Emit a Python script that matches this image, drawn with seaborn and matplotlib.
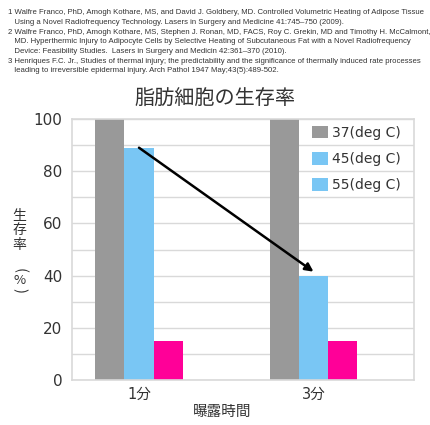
import numpy as np
import pandas as pd
import matplotlib
matplotlib.use("Agg")
import matplotlib.pyplot as plt
from matplotlib.patches import Patch
import seaborn as sns

# dati
tempi = ["1分", "3分"]
temperature = ["37(deg C)", "45(deg C)", "55(deg C)"]
valori_37 = [100, 100]
valori_45 = [89, 40]
valori_55 = [15, 15]

colori_barre = ["#999999", "#79c6f4", "#ff0098"]
colori_legenda = ["#999999", "#79c6f4", "#79c6f4"]  # nel grafico originale il 55 ha il colore del 45

note = [
    "1 Walfre Franco, PhD, Amogh Kothare, MS, and David J. Goldbery, MD. Controlled Volumetric Heating of Adipose Tissue",
    "   Using a Novel Radiofrequency Technology. Lasers in Surgery and Medicine 41:745\u2013750 (2009).",
    "2 Walfre Franco, PhD, Amogh Kothare, MS, Stephen J. Ronan, MD, FACS, Roy C. Grekin, MD and Timothy H. McCalmont,",
    "   MD. Hyperthermic Injury to Adipocyte Cells by Selective Heating of Subcutaneous Fat with a Novel Radiofrequency",
    "   Device: Feasibility Studies.  Lasers in Surgery and Medicin 42:361\u2013370 (2010).",
    "3 Henriques F.C. Jr., Studies of thermal injury; the predictability and the significance of thermally induced rate processes",
    "   leading to irreversible epidermal injury. Arch Pathol 1947 May;43(5):489-502.",
]

df = pd.DataFrame({
    "Tempo": tempi * 3,
    "Temperatura": np.repeat(temperature, len(tempi)),
    "Sopravvivenza": valori_37 + valori_45 + valori_55,
})

sns.set_theme(style="white")
plt.rcParams["font.family"] = ["DejaVu Sans", "Noto Sans CJK JP"]

fig = plt.figure(figsize=(4.3, 4.25), dpi=100)
ax = fig.add_axes([72 / 430, 1 - 380 / 425, 342 / 430, 261 / 425])

sns.barplot(data=df, x="Tempo", y="Sopravvivenza", hue="Temperatura",
            palette=colori_barre, width=0.5, linewidth=0, saturation=1,
            ax=ax, legend=False)

ax.set_ylim(0, 100)
ax.set_xlim(-0.384, 1.576)
ax.set_yticks(range(0, 101, 20))
ax.set_yticks(range(10, 100, 20), minor=True)
ax.grid(axis="y", which="both", color="#d9d9d9", linewidth=1)
ax.set_axisbelow(True)
for s in ax.spines.values():
    s.set_color("#d9d9d9")
    s.set_linewidth(1.2)
ax.tick_params(axis="y", which="both", length=0, pad=7, labelsize=11, labelcolor="#333333")
ax.tick_params(axis="x", length=0, pad=5, labelsize=10.5, labelcolor="#333333")

ax.set_xlabel("曝露時間", fontsize=10.5, color="#333333")
ax.xaxis.set_label_coords(0.44, -0.09)
ax.set_ylabel("")

# freccia dal 45 a 1 minuto al 45 a 3 minuti
ax.annotate("", xy=(1, valori_45[1] + 1.5), xytext=(0, valori_45[0]),
            arrowprops=dict(arrowstyle="-|>", color="black", lw=1.8,
                            mutation_scale=12, shrinkA=0, shrinkB=0))

maniglie = [Patch(facecolor=c, edgecolor="none") for c in colori_legenda]
fig.legend(maniglie, temperature, loc="upper left", bbox_to_anchor=(312 / 430, 1 - 126 / 425),
           frameon=False, fontsize=10, handlelength=1.15, handleheight=1.0,
           handletextpad=0.3, labelspacing=0.88, borderpad=0, borderaxespad=0,
           labelcolor="#333333")

fig.text(215 / 430, 1 - 99 / 425, "脂肪細胞の生存率", ha="center", va="center",
         fontsize=14.5, color="#333333", family=["Noto Sans CJK JP"])

# etichetta verticale in stile giapponese, un carattere alla volta
for car, yy, rot, fs in [("生", 216, 0, 10), ("存", 230, 0, 10), ("率", 245, 0, 10),
                         ("(", 270, -90, 10.5), ("%", 281, 0, 9.5), (")", 290, -90, 10.5)]:
    fig.text(19.5 / 430, 1 - yy / 425, car, ha="center", va="center", rotation=rot,
             fontsize=fs, color="#333333", family=["Noto Sans CJK JP"])

fig.text(8 / 430, 1 - 9 / 425, "\n".join(note), ha="left", va="top",
         fontsize=5.6, color="#333333", family="Liberation Sans", linespacing=1.55)

fig.savefig("out.png", dpi=100)
